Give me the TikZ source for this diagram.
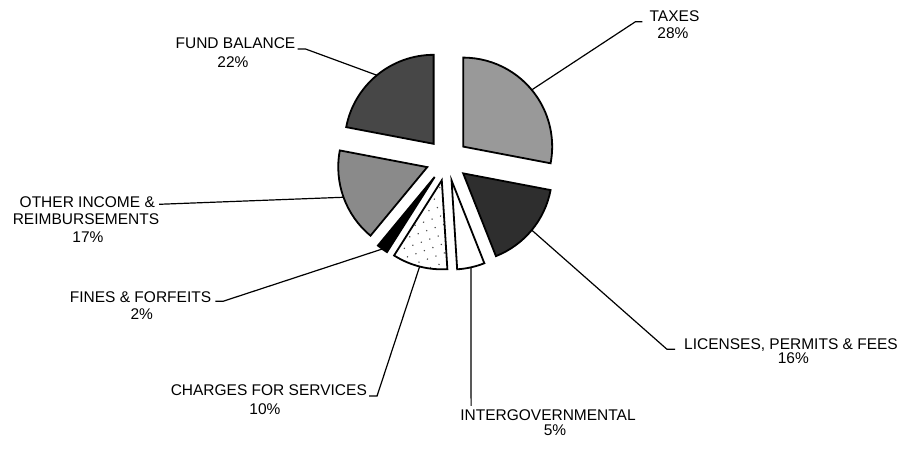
\documentclass[tikz,border=0pt]{standalone}
\usepackage{fontspec}
\setmainfont{Liberation Sans}
\usepackage{tikz}
\usetikzlibrary{calc,patterns.meta}
\newcommand{\pierad}{89}
\newcommand{\pieoff}{21}
\tikzset{
  wedge/.style  ={draw=black, line width=1.8pt},
  wdark/.style  ={wedge, fill=black!72},
  wdarker/.style={wedge, fill=black!82},
  wmid/.style   ={wedge, fill=black!40},
  wmidd/.style  ={wedge, fill=black!46},
  wblack/.style ={wedge, fill=black},
  wwhite/.style ={wedge, fill=white},
  wdots/.style  ={wedge, pattern={Dots[radius=0.8pt, distance=9pt, angle=20]}, pattern color=black!70},
  lbl/.style    ={font=\fontsize{15.5}{18}\selectfont, inner sep=1pt, anchor=base},
  leader/.style ={line width=1.2pt},
}
% one exploded sector: start angle, end angle, style
\newcommand{\piewedge}[3]{%
  \draw[#3] ($(ctr)+({(#1+#2)/2}:\pieoff)$) -- ++(#1:\pierad)
    arc[start angle=#1, end angle=#2, radius=\pierad] -- cycle;}

\begin{document}
\begin{tikzpicture}[x=1pt,y=1pt]
  \fill[white] (0,0) rectangle (903,453);
  \useasboundingbox (0,0) rectangle (903,453);
  \coordinate (ctr) at (447,293);

  % sectors
  \piewedge{90}{-10.8}{wmid}
  \piewedge{-10.8}{-68.4}{wdarker}
  \piewedge{-68.4}{-86.4}{wwhite}
  \piewedge{-86.4}{-122.4}{wdots}
  \piewedge{-122.4}{-129.6}{wblack}
  \piewedge{-129.6}{-190.8}{wmidd}
  \piewedge{169.2}{90}{wdark}

  % leader ends on the arcs
  \coordinate (taxes-tip)    at ($(ctr)+(39.6:110)$);
  \coordinate (licenses-tip) at ($(ctr)+(-39.6:110)$);
  \coordinate (intergov-tip) at ($(ctr)+(-77.4:110)$);
  \coordinate (charges-tip)  at ($(ctr)+(-104.4:110)$);
  \coordinate (fines-tip)    at ($(ctr)+(-126:110)$);
  \coordinate (other-tip)    at ($(ctr)+(-160.2:110)$);
  \coordinate (fund-tip)     at ($(ctr)+(129.6:110)$);

  % labels
  \node[lbl] (taxes)        at (674.5,431.3) {TAXES};
  \node[lbl] (taxes-pct)    at (673,414)     {28\%};
  \node[lbl] (fund)         at (235.5,404)   {FUND BALANCE};
  \node[lbl] (fund-pct)     at (233,385.3)   {22\%};
  \node[lbl] (other)        at (87.3,245.7)  {OTHER INCOME \&};
  \node[lbl] (other-2)      at (86,228)      {REIMBURSEMENTS};
  \node[lbl] (other-pct)    at (88,210.3)    {17\%};
  \node[lbl] (fines)        at (140.5,150.3) {FINES \& FORFEITS};
  \node[lbl] (fines-pct)    at (141.7,133)   {2\%};
  \node[lbl] (charges)      at (268.8,57)    {CHARGES FOR SERVICES};
  \node[lbl] (charges-pct)  at (265,38)      {10\%};
  \node[lbl] (intergov)     at (548,33)      {INTERGOVERNMENTAL};
  \node[lbl] (intergov-pct) at (555,18)      {5\%};
  \node[lbl] (licenses)     at (791,103.7)   {LICENSES, PERMITS \& FEES};
  \node[lbl] (licenses-pct) at (793.3,89.7)  {16\%};

  % leaders
  \draw[leader] ([xshift=-6]taxes.base west) -- ++(-7,0) -- (taxes-tip);
  \draw[leader] ([xshift=1]fund.base east) -- ++(8,0) -- (fund-tip);
  \draw[leader] ([shift={(3,3)}]other.base east) -- (other-tip);
  \draw[leader] ([shift={(3,1.5)}]fines.base east) -- ++(8,0) -- (fines-tip);
  \draw[leader] ([xshift=1]charges.base east) -- ++(8,0) -- (charges-tip);
  \draw[leader] ([shift={(12,2)}]intergov.north west) -- (intergov-tip);
  \draw[leader] ([xshift=-8]licenses.base west) -- ++(-8,0) -- (licenses-tip);
\end{tikzpicture}
\end{document}
